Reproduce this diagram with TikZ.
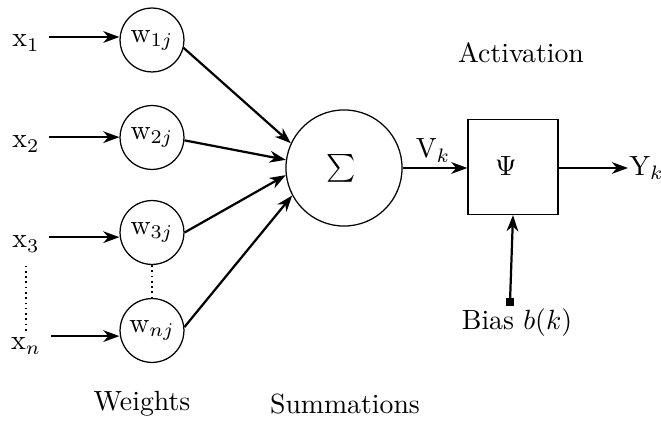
\documentclass[tikz,border=0pt]{standalone}
\usetikzlibrary{arrows.meta}
\begin{document}
\begin{tikzpicture}[x=0.36pt,y=-0.36pt,
  arr/.style={line width=0.8pt,-{Stealth[length=5.8pt,width=4.2pt,inset=1.8pt]}},
  wnode/.style={draw,line width=0.45pt,circle,minimum size=23pt,inner sep=0pt},
  dots/.style={line width=0.75pt,dash pattern=on 0.6pt off 1.3pt},
  lbl/.style={anchor=base}]
\useasboundingbox (0,0) rectangle (661,422);

% inputs
\node[lbl] (x1) at (26,47)  {x$_1$};
\node[lbl] (x2) at (26,148) {x$_2$};
\node[lbl] (x3) at (26,248) {x$_3$};
\node[lbl] (xn) at (26,350) {x$_n$};

% weights
\node[wnode] (w1) at (152,40)    {w$_{1j}$};
\node[wnode] (w2) at (152,137.5) {w$_{2j}$};
\node[wnode] (w3) at (152,232.5) {w$_{3j}$};
\node[wnode] (wn) at (152,330.5) {w$_{nj}$};

% summing junction and activation block
\node[draw,line width=0.45pt,circle,minimum size=41.8pt,inner sep=0pt] (sig) at (344,168) {};
\node (sigma) at (341,168) {$\sum$};
\node[draw,line width=0.45pt,minimum width=32.4pt,minimum height=34.2pt,inner sep=0pt] (box) at (513,167) {};
\node (psi) at (506,166) {$\Psi$};
\node[anchor=west,inner sep=0.3pt] (yk) at (628,168) {Y$_k$};
\node[lbl] (vk) at (433,158) {V$_k$};

% bias input
\node[fill,minimum size=3.2pt,inner sep=0pt] (bsq) at (510,302) {};
\node[lbl] (bias) at (517,330) {Bias $b(k)$};

% captions
\node[lbl] (act) at (521,63)  {Activation};
\node[lbl] (wts) at (142,411) {Weights};
\node[lbl] (sum) at (345,413) {Summations};

% input arrows
\foreach \a/\b/\h in {x1/w1/3.6pt,x2/w2/3.9pt,x3/w3/3.9pt,xn/wn/5pt}
  \draw[arr] ([yshift=\h]\a.base east) -- ([yshift=\h]\a.base east -| \b.west);

% weights to summation
\draw[arr] (w1.-14) -- (sig.155);
\draw[arr] (w2.-5)  -- (sig.172);
\draw[arr] (w3.0)   -- (sig.187);
\draw[arr] (wn.6)   -- (sig.208);

% elided rows
\draw[dots] ([yshift=-1.3pt]x3.south) -- ([yshift=-1.15pt]xn.north);
\draw[dots] (w3.south) -- (wn.north);

% summation to activation to output
\draw[arr] (sig.east) -- (sig.east -| box.west);
\draw[arr] (box.east |- yk.west) -- (yk.west);
\draw[arr] (bsq.center) -- (box.south);
\end{tikzpicture}
\end{document}
